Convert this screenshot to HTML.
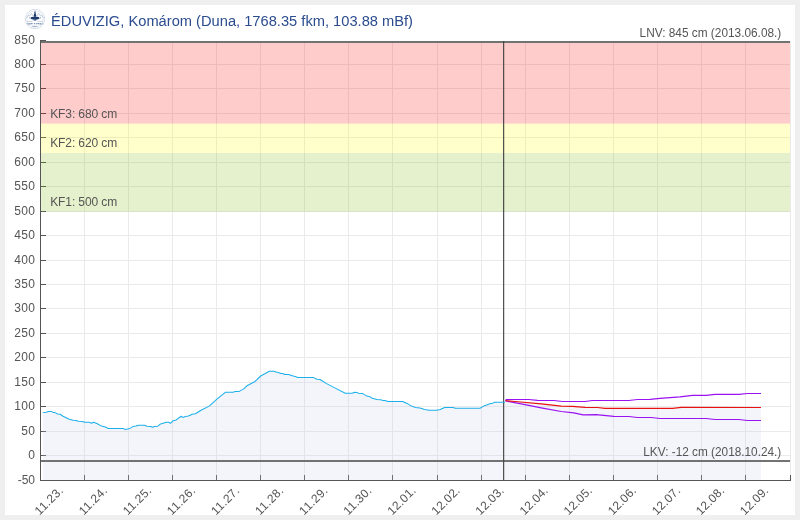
<!DOCTYPE html>
<html><head><meta charset="utf-8"><title>chart</title>
<style>
html,body{margin:0;padding:0;background:#efefef;}
body{width:800px;height:520px;overflow:hidden;font-family:"Liberation Sans",sans-serif;}
svg{display:block;position:absolute;left:0;top:0;will-change:transform;}
text{font-family:"Liberation Sans",sans-serif;}
</style></head><body>
<svg width="800" height="520" viewBox="0 0 800 520">
<rect x="0" y="0" width="800" height="520" fill="#efefef"/>
<rect x="5" y="5" width="790" height="510" fill="#ffffff"/>

<g stroke="#eaeaea" stroke-width="1" shape-rendering="crispEdges">
<line x1="84.5" y1="41" x2="84.5" y2="480"/>
<line x1="128.5" y1="41" x2="128.5" y2="480"/>
<line x1="172.5" y1="41" x2="172.5" y2="480"/>
<line x1="216.5" y1="41" x2="216.5" y2="480"/>
<line x1="260.5" y1="41" x2="260.5" y2="480"/>
<line x1="304.5" y1="41" x2="304.5" y2="480"/>
<line x1="348.5" y1="41" x2="348.5" y2="480"/>
<line x1="392.5" y1="41" x2="392.5" y2="480"/>
<line x1="437.5" y1="41" x2="437.5" y2="480"/>
<line x1="481.5" y1="41" x2="481.5" y2="480"/>
<line x1="525.5" y1="41" x2="525.5" y2="480"/>
<line x1="569.5" y1="41" x2="569.5" y2="480"/>
<line x1="613.5" y1="41" x2="613.5" y2="480"/>
<line x1="657.5" y1="41" x2="657.5" y2="480"/>
<line x1="701.5" y1="41" x2="701.5" y2="480"/>
<line x1="745.5" y1="41" x2="745.5" y2="480"/>
<line x1="790.5" y1="41" x2="790.5" y2="480"/>
<line x1="41" y1="455.5" x2="790" y2="455.5"/>
<line x1="41" y1="431.5" x2="790" y2="431.5"/>
<line x1="41" y1="406.5" x2="790" y2="406.5"/>
<line x1="41" y1="382.5" x2="790" y2="382.5"/>
<line x1="41" y1="357.5" x2="790" y2="357.5"/>
<line x1="41" y1="333.5" x2="790" y2="333.5"/>
<line x1="41" y1="308.5" x2="790" y2="308.5"/>
<line x1="41" y1="284.5" x2="790" y2="284.5"/>
<line x1="41" y1="260.5" x2="790" y2="260.5"/>
<line x1="41" y1="235.5" x2="790" y2="235.5"/>
<line x1="41" y1="211.5" x2="790" y2="211.5"/>
<line x1="41" y1="186.5" x2="790" y2="186.5"/>
<line x1="41" y1="162.5" x2="790" y2="162.5"/>
<line x1="41" y1="137.5" x2="790" y2="137.5"/>
<line x1="41" y1="113.5" x2="790" y2="113.5"/>
<line x1="41" y1="88.5" x2="790" y2="88.5"/>
<line x1="41" y1="64.5" x2="790" y2="64.5"/>
</g>
<g stroke="#555" stroke-width="1" shape-rendering="crispEdges">
<line x1="41" y1="480.5" x2="46" y2="480.5"/>
<line x1="41" y1="455.5" x2="46" y2="455.5"/>
<line x1="41" y1="431.5" x2="46" y2="431.5"/>
<line x1="41" y1="406.5" x2="46" y2="406.5"/>
<line x1="41" y1="382.5" x2="46" y2="382.5"/>
<line x1="41" y1="357.5" x2="46" y2="357.5"/>
<line x1="41" y1="333.5" x2="46" y2="333.5"/>
<line x1="41" y1="308.5" x2="46" y2="308.5"/>
<line x1="41" y1="284.5" x2="46" y2="284.5"/>
<line x1="41" y1="260.5" x2="46" y2="260.5"/>
<line x1="41" y1="235.5" x2="46" y2="235.5"/>
<line x1="41" y1="211.5" x2="46" y2="211.5"/>
<line x1="41" y1="186.5" x2="46" y2="186.5"/>
<line x1="41" y1="162.5" x2="46" y2="162.5"/>
<line x1="41" y1="137.5" x2="46" y2="137.5"/>
<line x1="41" y1="113.5" x2="46" y2="113.5"/>
<line x1="41" y1="88.5" x2="46" y2="88.5"/>
<line x1="41" y1="64.5" x2="46" y2="64.5"/>
<line x1="41" y1="40.5" x2="46" y2="40.5"/>
<line x1="84.5" y1="475" x2="84.5" y2="480"/>
<line x1="128.5" y1="475" x2="128.5" y2="480"/>
<line x1="172.5" y1="475" x2="172.5" y2="480"/>
<line x1="216.5" y1="475" x2="216.5" y2="480"/>
<line x1="260.5" y1="475" x2="260.5" y2="480"/>
<line x1="304.5" y1="475" x2="304.5" y2="480"/>
<line x1="348.5" y1="475" x2="348.5" y2="480"/>
<line x1="392.5" y1="475" x2="392.5" y2="480"/>
<line x1="437.5" y1="475" x2="437.5" y2="480"/>
<line x1="481.5" y1="475" x2="481.5" y2="480"/>
<line x1="525.5" y1="475" x2="525.5" y2="480"/>
<line x1="569.5" y1="475" x2="569.5" y2="480"/>
<line x1="613.5" y1="475" x2="613.5" y2="480"/>
<line x1="657.5" y1="475" x2="657.5" y2="480"/>
<line x1="701.5" y1="475" x2="701.5" y2="480"/>
<line x1="745.5" y1="475" x2="745.5" y2="480"/>
<line x1="790.5" y1="475" x2="790.5" y2="481"/>
</g>
<polygon points="42.9,412.4 46.2,412.3 48.5,411.4 51.1,411.4 53.1,412.4 54.9,412.6 57.7,414.0 60.0,414.3 63.1,416.3 69.2,419.2 73.1,420.3 76.1,420.4 78.4,421.3 82.3,421.5 84.6,422.3 89.2,422.3 91.5,423.2 93.5,422.3 96.9,423.5 101.5,426.1 105.3,427.0 108.4,428.4 123.0,428.4 125.3,429.5 129.9,428.4 133.0,426.6 136.1,426.1 138.4,425.3 144.5,425.3 146.9,426.3 150.7,426.4 152.5,427.2 154.5,426.4 157.6,426.3 159.9,424.3 163.1,423.3 166.2,422.3 168.5,422.3 170.5,423.3 173.1,420.7 176.1,420.0 179.2,417.7 181.2,416.3 182.8,417.4 185.4,416.4 188.4,416.1 192.3,414.3 195.4,413.8 201.5,410.0 209.2,406.1 216.9,399.2 225.3,392.3 233.0,392.3 235.3,391.4 239.2,391.4 243.8,388.9 246.9,385.8 254.6,381.8 260.7,376.0 265.3,373.5 269.2,371.2 273.8,371.2 276.1,372.1 278.4,372.5 280.7,373.4 282.8,373.5 284.6,374.5 288.5,374.6 293.1,376.1 295.4,376.6 297.7,377.4 313.1,377.4 316.9,379.2 320.0,379.5 326.1,383.4 333.8,387.4 345.3,393.2 352.3,393.2 354.6,392.3 356.9,392.4 358.4,393.2 362.3,393.4 366.9,396.1 369.2,396.4 372.3,398.3 376.9,399.5 380.7,399.7 383.0,400.4 385.3,400.6 387.6,401.4 402.8,401.5 406.9,403.4 411.5,406.1 415.4,407.4 420.0,408.1 424.6,409.4 429.2,410.3 436.9,410.3 440.3,409.4 444.6,407.4 453.0,407.4 455.4,408.3 480.0,408.3 483.8,406.1 490.7,403.4 492.3,403.4 494.6,402.3 505.0,402.3 505.6,400.6 515.0,401.5 541.2,403.8 561.2,406.2 572.5,406.4 585.0,407.4 597.5,407.5 605.0,408.4 672.5,408.4 681.2,407.4 761.0,407.5 761.0,480.0 42.9,480.0" fill="#ccd2e6" fill-opacity="0.22"/>
<rect x="41" y="41" width="749" height="82.66" fill="#ff0000" fill-opacity="0.2"/>
<rect x="41" y="123.66" width="749" height="29.33" fill="#ffff00" fill-opacity="0.2"/>
<rect x="41" y="152.99" width="749" height="58.67" fill="#7cb500" fill-opacity="0.2"/>
<g stroke="#555" stroke-width="1" shape-rendering="crispEdges">
<line x1="40.5" y1="40" x2="40.5" y2="481"/>
<line x1="40" y1="480.5" x2="791" y2="480.5"/>
</g>
<line x1="41" y1="42" x2="790" y2="42" stroke="#727272" stroke-width="2"/>
<line x1="41" y1="461" x2="790" y2="461" stroke="#727272" stroke-width="2"/>
<line x1="503.65" y1="41" x2="503.65" y2="480" stroke="#444" stroke-width="1.15"/>
<polyline points="42.9,412.4 46.2,412.3 48.5,411.4 51.1,411.4 53.1,412.4 54.9,412.6 57.7,414.0 60.0,414.3 63.1,416.3 69.2,419.2 73.1,420.3 76.1,420.4 78.4,421.3 82.3,421.5 84.6,422.3 89.2,422.3 91.5,423.2 93.5,422.3 96.9,423.5 101.5,426.1 105.3,427.0 108.4,428.4 123.0,428.4 125.3,429.5 129.9,428.4 133.0,426.6 136.1,426.1 138.4,425.3 144.5,425.3 146.9,426.3 150.7,426.4 152.5,427.2 154.5,426.4 157.6,426.3 159.9,424.3 163.1,423.3 166.2,422.3 168.5,422.3 170.5,423.3 173.1,420.7 176.1,420.0 179.2,417.7 181.2,416.3 182.8,417.4 185.4,416.4 188.4,416.1 192.3,414.3 195.4,413.8 201.5,410.0 209.2,406.1 216.9,399.2 225.3,392.3 233.0,392.3 235.3,391.4 239.2,391.4 243.8,388.9 246.9,385.8 254.6,381.8 260.7,376.0 265.3,373.5 269.2,371.2 273.8,371.2 276.1,372.1 278.4,372.5 280.7,373.4 282.8,373.5 284.6,374.5 288.5,374.6 293.1,376.1 295.4,376.6 297.7,377.4 313.1,377.4 316.9,379.2 320.0,379.5 326.1,383.4 333.8,387.4 345.3,393.2 352.3,393.2 354.6,392.3 356.9,392.4 358.4,393.2 362.3,393.4 366.9,396.1 369.2,396.4 372.3,398.3 376.9,399.5 380.7,399.7 383.0,400.4 385.3,400.6 387.6,401.4 402.8,401.5 406.9,403.4 411.5,406.1 415.4,407.4 420.0,408.1 424.6,409.4 429.2,410.3 436.9,410.3 440.3,409.4 444.6,407.4 453.0,407.4 455.4,408.3 480.0,408.3 483.8,406.1 490.7,403.4 492.3,403.4 494.6,402.3 505.0,402.3" fill="none" stroke="#1cb0ea" stroke-width="1.05" stroke-linejoin="round"/>
<polyline points="505.6,400.9 506.2,399.5 528.8,399.5 537.5,400.4 553.8,400.5 562.5,401.5 585.0,401.5 592.5,400.5 628.8,400.5 637.5,399.5 650.0,399.4 660.0,398.4 680.0,396.9 692.5,395.4 706.2,395.4 715.0,394.4 738.8,394.4 747.5,393.5 761.0,393.5" fill="none" stroke="#9a12f2" stroke-width="1.2" stroke-linejoin="round"/>
<polyline points="505.6,401.0 525.0,404.6 541.2,407.8 561.2,411.5 573.8,412.8 583.1,414.8 596.2,414.6 613.8,416.4 628.8,416.5 637.5,417.5 651.2,417.5 660.0,418.5 706.2,418.5 715.0,419.5 738.8,419.5 747.5,420.5 761.0,420.5" fill="none" stroke="#9a12f2" stroke-width="1.2" stroke-linejoin="round"/>
<polyline points="505.6,400.6 515.0,401.5 541.2,403.8 561.2,406.2 572.5,406.4 585.0,407.4 597.5,407.5 605.0,408.4 672.5,408.4 681.2,407.4 761.0,407.5" fill="none" stroke="#e81212" stroke-width="1.2" stroke-linejoin="round"/>
<g font-size="12" fill="#555" text-anchor="end">
<text x="35.0" y="484.3" textLength="17.3">-50</text>
<text x="35.0" y="459.3" textLength="6.7">0</text>
<text x="35.0" y="435.3" textLength="13.7">50</text>
<text x="35.0" y="410.3" textLength="20.8">100</text>
<text x="35.0" y="386.3" textLength="20.8">150</text>
<text x="35.0" y="361.3" textLength="20.8">200</text>
<text x="35.0" y="337.3" textLength="20.8">250</text>
<text x="35.0" y="312.3" textLength="20.8">300</text>
<text x="35.0" y="288.3" textLength="20.8">350</text>
<text x="35.0" y="264.3" textLength="20.8">400</text>
<text x="35.0" y="239.3" textLength="20.8">450</text>
<text x="35.0" y="215.3" textLength="20.8">500</text>
<text x="35.0" y="190.3" textLength="20.8">550</text>
<text x="35.0" y="166.3" textLength="20.8">600</text>
<text x="35.0" y="141.3" textLength="20.8">650</text>
<text x="35.0" y="117.3" textLength="20.8">700</text>
<text x="35.0" y="92.3" textLength="20.8">750</text>
<text x="35.0" y="68.3" textLength="20.8">800</text>
<text x="35.0" y="44.3" textLength="20.8">850</text>
</g>
<g font-size="12" fill="#555" text-anchor="end">
<text transform="translate(63.8,491.4) rotate(-45)" x="0" y="0" textLength="34.3">11.23.</text>
<text transform="translate(107.9,491.4) rotate(-45)" x="0" y="0" textLength="34.3">11.24.</text>
<text transform="translate(152.0,491.4) rotate(-45)" x="0" y="0" textLength="34.3">11.25.</text>
<text transform="translate(196.1,491.4) rotate(-45)" x="0" y="0" textLength="34.3">11.26.</text>
<text transform="translate(240.2,491.4) rotate(-45)" x="0" y="0" textLength="34.3">11.27.</text>
<text transform="translate(284.2,491.4) rotate(-45)" x="0" y="0" textLength="34.3">11.28.</text>
<text transform="translate(328.3,491.4) rotate(-45)" x="0" y="0" textLength="34.3">11.29.</text>
<text transform="translate(372.4,491.4) rotate(-45)" x="0" y="0" textLength="34.3">11.30.</text>
<text transform="translate(416.5,491.4) rotate(-45)" x="0" y="0" textLength="34.3">12.01.</text>
<text transform="translate(460.6,491.4) rotate(-45)" x="0" y="0" textLength="34.3">12.02.</text>
<text transform="translate(504.6,491.4) rotate(-45)" x="0" y="0" textLength="34.3">12.03.</text>
<text transform="translate(548.7,491.4) rotate(-45)" x="0" y="0" textLength="34.3">12.04.</text>
<text transform="translate(592.8,491.4) rotate(-45)" x="0" y="0" textLength="34.3">12.05.</text>
<text transform="translate(636.9,491.4) rotate(-45)" x="0" y="0" textLength="34.3">12.06.</text>
<text transform="translate(681.0,491.4) rotate(-45)" x="0" y="0" textLength="34.3">12.07.</text>
<text transform="translate(725.0,491.4) rotate(-45)" x="0" y="0" textLength="34.3">12.08.</text>
<text transform="translate(769.1,491.4) rotate(-45)" x="0" y="0" textLength="34.3">12.09.</text>
</g>
<g font-size="12" fill="#555">
<text x="50.2" y="117.9" textLength="67">KF3: 680 cm</text>
<text x="50.2" y="146.9" textLength="67">KF2: 620 cm</text>
<text x="50.2" y="205.9" textLength="67">KF1: 500 cm</text>
<text x="781.3" y="37" text-anchor="end" textLength="141.7" lengthAdjust="spacingAndGlyphs">LNV: 845 cm (2013.06.08.)</text>
<text x="781.3" y="456" text-anchor="end" textLength="138" lengthAdjust="spacingAndGlyphs">LKV: -12 cm (2018.10.24.)</text>
</g>
<text x="51" y="25.5" font-size="15.5" fill="#2b4c8f" textLength="362" lengthAdjust="spacingAndGlyphs">ÉDUVIZIG, Komárom (Duna, 1768.35 fkm, 103.88 mBf)</text>
<g>
<circle cx="35" cy="19" r="9.6" fill="none" stroke="#c6d1df" stroke-width="0.8" stroke-dasharray="3 0.5"/>
<circle cx="35" cy="19" r="8.2" fill="none" stroke="#d9e1eb" stroke-width="0.7"/>
<path d="M26.3 18.2 L28.6 15.2 L29.6 16 L31.4 13.4 L33.4 16.2" fill="none" stroke="#9db0c7" stroke-width="0.6"/>
<path d="M43.7 18.2 L41.4 15.2 L40.4 16 L38.6 13.4 L36.6 16.2" fill="none" stroke="#9db0c7" stroke-width="0.6"/>
<path d="M35 10.6 C35.6 12 35.8 13.2 35.8 14.2 C36.6 15 36.2 16 35.7 16.8 L34.3 16.8 C33.8 16 33.4 15 34.2 14.2 C34.2 13.2 34.4 12 35 10.6 Z" fill="#1d3a6c"/>
<ellipse cx="35" cy="18.1" rx="4.4" ry="1.55" fill="#1d3a6c"/>
<path d="M29.2 17.6 L30.2 18.4 M40.8 17.6 L39.8 18.4" stroke="#4d6a95" stroke-width="0.8"/>
<rect x="33.6" y="19.4" width="2.8" height="1.2" fill="#3f5d8c"/>
<path d="M27 21.4 L32.5 21.6 M37.5 21.6 L43 21.4" stroke="#a9b9cd" stroke-width="0.6"/>
<path d="M27.3 23.9 L33.2 23.6 M34.2 23.6 L35.2 23.6 M36.2 23.6 L42.6 23.9" stroke="#6f88aa" stroke-width="1.3" stroke-dasharray="1.4 0.5"/>
<path d="M32.3 26.3 L37.4 26.3" stroke="#8199b8" stroke-width="0.8"/>
<path d="M31 28.2 L39 28.2" stroke="#e1e7ef" stroke-width="0.5"/>
</g>
</svg></body></html>
